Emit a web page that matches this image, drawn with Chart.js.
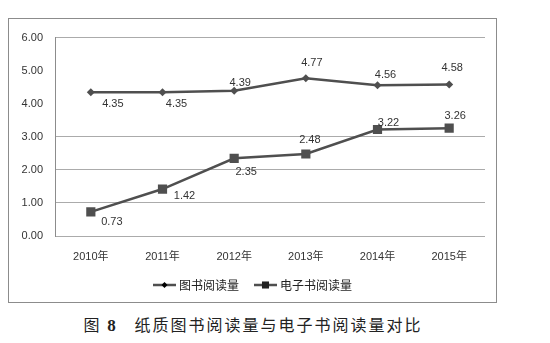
<!DOCTYPE html>
<html>
<head>
<meta charset="utf-8">
<script src="https://cdn.jsdelivr.net/npm/chart.js@4/dist/chart.umd.min.js"></script>
<style>
  body { margin: 0; background: #fff; width: 550px; height: 343px; position: relative; overflow: hidden; }
  #box { position: absolute; left: 8px; top: 18px; width: 487px; height: 283px; border: 1px solid #8c8c8c; }
  #caption {
    position: absolute; left: 0; top: 312px; width: 506px; text-align: center;
    font: 16px "Noto Sans CJK SC", sans-serif; letter-spacing: 2px; color: #222;
  }
  #caption b { font-family: "Liberation Serif", serif; font-size: 17px; }
</style>
</head>
<body>
<div id="box"><canvas id="chart"></canvas></div>
<div id="caption">图 <b>8</b>&nbsp;&nbsp;&nbsp;纸质图书阅读量与电子书阅读量对比</div>
<script>
const years = ['2010年', '2011年', '2012年', '2013年', '2014年', '2015年']
const paperBooks = [4.35, 4.35, 4.39, 4.77, 4.56, 4.58]
const eBooks = [0.73, 1.42, 2.35, 2.48, 3.22, 3.26]
const seriesNames = ['图书阅读量', '电子书阅读量']

// where each value label sits relative to its point (dx, dy)
const paperLabelOffsets = [[22, 12], [14, 12], [6, -8], [6, -15], [8, -10], [3, -17]]
const eBookLabelOffsets = [[21, 10], [22, 7], [12, 14], [4, -14], [11, -7], [6, -12]]

const LINE = '#4f4f4f'
const TEXT = '#333'

const valueLabels = {
  id: 'valueLabels',
  afterDatasetsDraw (chart) {
    const ctx = chart.ctx
    const offsets = [paperLabelOffsets, eBookLabelOffsets]
    ctx.save()
    ctx.font = '11px "Liberation Sans", sans-serif'
    ctx.fillStyle = TEXT
    ctx.textAlign = 'center'
    ctx.textBaseline = 'middle'
    chart.data.datasets.forEach((ds, d) => {
      chart.getDatasetMeta(d).data.forEach((pt, i) => {
        const off = offsets[d][i]
        ctx.fillText(ds.data[i].toFixed(2), pt.x + off[0], pt.y + off[1])
      })
    })
    ctx.restore()
  }
}

// legend drawn as line + marker + name, centered under the axis
const lineLegend = {
  id: 'lineLegend',
  afterDraw (chart) {
    const ctx = chart.ctx
    const y = 266
    const lineLen = 23
    ctx.save()
    ctx.font = '12px "Noto Sans CJK SC", sans-serif'
    const widths = chart.data.datasets.map(ds => lineLen + 3 + ctx.measureText(ds.label).width)
    const gap = 15
    const total = widths.reduce((a, b) => a + b, 0) + gap * (widths.length - 1)
    let x = (chart.width - total) / 2
    chart.data.datasets.forEach((ds, d) => {
      ctx.strokeStyle = LINE
      ctx.lineWidth = 2.5
      ctx.beginPath()
      ctx.moveTo(x, y)
      ctx.lineTo(x + lineLen, y)
      ctx.stroke()
      Chart.helpers.drawPoint(ctx, {
        pointStyle: ds.pointStyle,
        radius: ds.pointStyle === 'rect' ? 5 : 3,
        borderWidth: 0
      }, x + lineLen / 2, y)
      ctx.fillStyle = '#222'
      ctx.textBaseline = 'middle'
      ctx.fillText(ds.label, x + lineLen + 3, y)
      x += widths[d] + gap
    })
    ctx.restore()
  }
}

new Chart(document.getElementById('chart'), {
  type: 'line',
  data: {
    labels: years,
    datasets: [
      {
        label: seriesNames[0],
        data: paperBooks,
        borderColor: LINE,
        backgroundColor: LINE,
        borderWidth: 2.5,
        pointStyle: 'rectRot',
        pointRadius: 4,
        pointBorderWidth: 0,
        tension: 0
      },
      {
        label: seriesNames[1],
        data: eBooks,
        borderColor: LINE,
        backgroundColor: LINE,
        borderWidth: 2.5,
        pointStyle: 'rect',
        pointRadius: 6.5,
        pointBorderWidth: 0,
        tension: 0
      }
    ]
  },
  options: {
    responsive: true,
    maintainAspectRatio: false,
    animation: false,
    layout: { padding: { top: 13, right: 11, left: 0, bottom: 26 } },
    plugins: {
      legend: { display: false },
      tooltip: { enabled: false }
    },
    scales: {
      x: {
        offset: true,
        grid: { display: false },
        border: { display: false },
        afterFit: scale => { scale.height = 40 },
        ticks: {
          padding: 6,
          color: TEXT,
          font: { size: 11, family: '"Liberation Sans", "Noto Sans CJK SC", sans-serif' }
        }
      },
      y: {
        min: 0,
        max: 6,
        afterFit: scale => { scale.width = 46 },
        border: { display: true, color: '#8c8c8c', width: 1 },
        grid: {
          drawTicks: false,
          lineWidth: 1,
          color: c => (c.tick.value === 4 || c.tick.value === 5 ? 'rgba(0,0,0,0)' : '#ababab')
        },
        ticks: {
          stepSize: 1,
          padding: 12,
          color: TEXT,
          font: { size: 11, family: '"Liberation Sans", sans-serif' },
          callback: v => v.toFixed(2)
        }
      }
    }
  },
  plugins: [valueLabels, lineLegend]
})
</script>
</body>
</html>
